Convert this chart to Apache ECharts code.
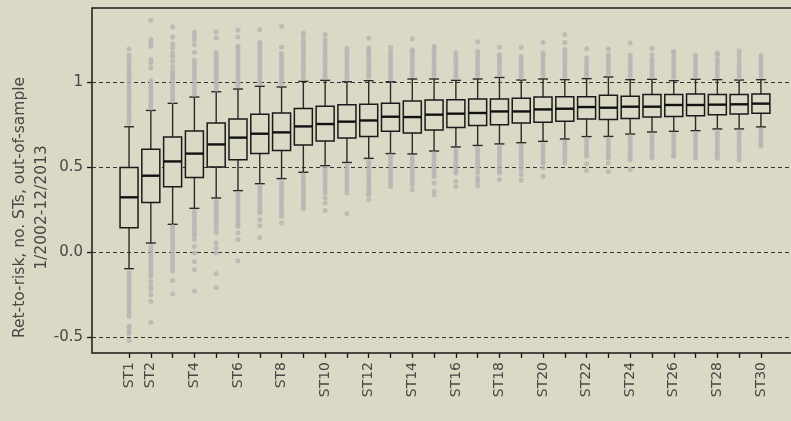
<!DOCTYPE html>
<html>
<head>
<meta charset="utf-8">
<script src="https://cdn.jsdelivr.net/npm/echarts@6/dist/echarts.min.js"></script>
<style>
  html, body { margin: 0; padding: 0; background: #d9d9c5; }
  #chart { width: 791px; height: 421px; }
</style>
</head>
<body>
<div id="chart"></div>
<script>
const strategies = ['ST1','ST2','ST3','ST4','ST5','ST6','ST7','ST8','ST9','ST10','ST11','ST12','ST13','ST14','ST15',
  'ST16','ST17','ST18','ST19','ST20','ST21','ST22','ST23','ST24','ST25','ST26','ST27','ST28','ST29','ST30'];
const labeledStrategies = ['ST1','ST2','ST4','ST6','ST8','ST10','ST12','ST14','ST16','ST18','ST20','ST22','ST24','ST26','ST28','ST30'];
const yTicks = [-0.5, 0, 0.5, 1];

const whiskerHigh = [0.739,0.835,0.877,0.914,0.945,0.961,0.977,0.973,1.006,1.012,1.004,1.01,1.004,1.02,1.02,1.012,1.02,1.029,1.014,1.02,1.016,1.022,1.032,1.016,1.018,1.01,1.018,1.016,1.014,1.016];
const q3 = [0.5,0.606,0.679,0.714,0.761,0.785,0.812,0.82,0.847,0.859,0.869,0.871,0.877,0.891,0.896,0.898,0.902,0.902,0.906,0.914,0.916,0.916,0.924,0.918,0.928,0.929,0.932,0.928,0.929,0.932];
const median = [0.324,0.451,0.535,0.581,0.635,0.675,0.698,0.706,0.741,0.755,0.769,0.776,0.798,0.796,0.81,0.816,0.82,0.829,0.829,0.841,0.845,0.855,0.851,0.857,0.857,0.867,0.867,0.869,0.871,0.875];
const q1 = [0.145,0.294,0.386,0.441,0.502,0.545,0.581,0.6,0.632,0.655,0.673,0.682,0.712,0.702,0.72,0.734,0.747,0.751,0.761,0.765,0.771,0.785,0.781,0.788,0.796,0.8,0.804,0.81,0.814,0.818];
const whiskerLow = [-0.096,0.055,0.165,0.259,0.32,0.363,0.404,0.434,0.471,0.51,0.529,0.553,0.581,0.579,0.596,0.62,0.629,0.638,0.645,0.653,0.667,0.681,0.682,0.696,0.708,0.712,0.716,0.726,0.726,0.738];

// outliers per strategy (upper then lower)
const outliers = [
  [0.76,0.78,0.80,0.82,0.84,0.86,0.88,0.90,0.92,0.94,0.96,0.98,1.00,1.02,1.035,1.05,1.07,1.09,1.115,1.135,1.16,1.196,
   -0.12,-0.14,-0.16,-0.18,-0.20,-0.22,-0.24,-0.26,-0.28,-0.30,-0.32,-0.34,-0.36,-0.376,-0.435,-0.445,-0.465,-0.478,-0.518],
  [0.85,0.87,0.89,0.91,0.93,0.95,0.97,0.99,1.01,1.085,1.114,1.134,1.212,1.232,1.251,1.365,
   0.035,0.015,-0.005,-0.025,-0.045,-0.065,-0.085,-0.105,-0.125,-0.14,-0.171,-0.2,-0.219,-0.249,-0.288,-0.412],
  [0.89,0.91,0.93,0.95,0.97,0.99,1.01,1.03,1.05,1.065,1.094,1.124,1.153,1.173,1.202,1.228,1.267,1.326,
   0.15,0.13,0.11,0.09,0.07,0.05,0.03,0.01,-0.01,-0.03,-0.05,-0.07,-0.09,-0.11,-0.166,-0.245],
  [0.93,0.95,0.97,0.99,1.01,1.03,1.05,1.07,1.09,1.11,1.13,1.176,1.222,1.251,1.275,1.294,
   0.24,0.22,0.20,0.18,0.16,0.14,0.12,0.10,0.075,0.035,-0.004,-0.053,-0.102,-0.227],
  [0.96,0.98,1.00,1.02,1.04,1.06,1.08,1.10,1.12,1.14,1.16,1.176,1.261,1.296,
   0.30,0.28,0.26,0.24,0.22,0.20,0.18,0.16,0.14,0.116,0.055,0.026,-0.004,-0.125,-0.206],
  [0.98,1.00,1.02,1.04,1.06,1.08,1.10,1.12,1.14,1.16,1.18,1.20,1.212,1.267,1.306,
   0.345,0.325,0.305,0.285,0.265,0.245,0.225,0.205,0.185,0.165,0.153,0.114,0.075,-0.049],
  [0.995,1.015,1.035,1.055,1.075,1.095,1.115,1.135,1.155,1.175,1.195,1.215,1.235,1.31,
   0.385,0.365,0.345,0.325,0.305,0.285,0.265,0.245,0.233,0.192,0.157,0.086],
  [0.99,1.01,1.03,1.05,1.07,1.09,1.11,1.13,1.15,1.169,1.206,1.329,
   0.415,0.395,0.375,0.355,0.335,0.315,0.295,0.275,0.255,0.235,0.212,0.173],
  [1.025,1.045,1.065,1.085,1.105,1.125,1.145,1.165,1.185,1.205,1.225,1.245,1.271,1.29,
   0.455,0.435,0.415,0.395,0.375,0.355,0.335,0.315,0.295,0.275,0.255],
  [1.03,1.05,1.07,1.09,1.11,1.13,1.15,1.17,1.19,1.21,1.23,1.251,1.281,
   0.49,0.47,0.45,0.43,0.41,0.39,0.37,0.35,0.32,0.29,0.247],
  [1.02,1.04,1.06,1.08,1.10,1.12,1.14,1.16,1.182,1.2,
   0.51,0.49,0.47,0.45,0.43,0.41,0.39,0.37,0.349,0.229],
  [1.03,1.05,1.07,1.09,1.11,1.13,1.15,1.17,1.19,1.202,1.261,
   0.535,0.515,0.495,0.475,0.455,0.435,0.415,0.395,0.375,0.355,0.339,0.31],
  [1.02,1.04,1.06,1.08,1.10,1.12,1.14,1.16,1.18,1.206,
   0.565,0.545,0.525,0.505,0.485,0.465,0.445,0.425,0.405,0.388],
  [1.04,1.06,1.08,1.10,1.12,1.14,1.16,1.18,1.192,1.257,
   0.56,0.54,0.52,0.50,0.48,0.46,0.44,0.42,0.40,0.369],
  [1.04,1.06,1.08,1.10,1.12,1.14,1.16,1.18,1.20,1.212,
   0.58,0.56,0.54,0.52,0.50,0.48,0.46,0.447,0.408,0.359,0.339],
  [1.03,1.05,1.07,1.09,1.11,1.13,1.15,1.173,
   0.60,0.58,0.56,0.54,0.52,0.50,0.48,0.467,0.418,0.388],
  [1.04,1.06,1.08,1.10,1.12,1.14,1.16,1.182,1.239,
   0.61,0.59,0.57,0.55,0.53,0.51,0.49,0.467,0.437,0.418,0.392],
  [1.045,1.065,1.085,1.105,1.125,1.145,1.163,1.208,
   0.62,0.60,0.58,0.56,0.54,0.52,0.50,0.48,0.467,0.428],
  [1.03,1.05,1.07,1.09,1.11,1.13,1.153,1.206,
   0.625,0.605,0.585,0.565,0.545,0.525,0.505,0.486,0.457,0.424],
  [1.04,1.06,1.08,1.10,1.12,1.14,1.16,1.173,1.235,
   0.635,0.615,0.595,0.575,0.555,0.535,0.526,0.496,0.447],
  [1.035,1.055,1.075,1.095,1.115,1.135,1.155,1.175,1.192,1.235,1.281,
   0.65,0.63,0.61,0.59,0.57,0.55,0.526],
  [1.04,1.06,1.08,1.10,1.12,1.143,1.198,
   0.665,0.645,0.625,0.605,0.585,0.565,0.522,0.481],
  [1.05,1.07,1.09,1.11,1.13,1.15,1.163,1.196,
   0.665,0.645,0.625,0.605,0.585,0.565,0.555,0.526,0.476],
  [1.035,1.055,1.075,1.095,1.115,1.134,1.16,1.232,
   0.68,0.66,0.64,0.62,0.60,0.58,0.56,0.545,0.488],
  [1.035,1.055,1.075,1.095,1.115,1.135,1.163,1.2,
   0.69,0.67,0.65,0.63,0.61,0.59,0.57,0.555],
  [1.03,1.05,1.07,1.09,1.11,1.13,1.15,1.173,1.182,
   0.695,0.675,0.655,0.635,0.615,0.595,0.575,0.565],
  [1.035,1.055,1.075,1.095,1.115,1.135,1.159,
   0.70,0.68,0.66,0.64,0.62,0.60,0.58,0.555],
  [1.035,1.055,1.075,1.095,1.115,1.135,1.163,1.173,
   0.71,0.69,0.67,0.65,0.63,0.61,0.59,0.575,0.553],
  [1.03,1.05,1.07,1.09,1.11,1.134,1.16,1.185,
   0.71,0.69,0.67,0.65,0.63,0.61,0.59,0.565,0.543],
  [1.035,1.055,1.075,1.095,1.115,1.135,1.157,
   0.72,0.70,0.68,0.66,0.64,0.624]
];

const bg = '#d9d9c5';
const font = 'DejaVu Sans';
const textColor = '#474747';

const boxData = strategies.map((s, i) => [i + 1, whiskerLow[i], q1[i], median[i], q3[i], whiskerHigh[i]]);
const dotData = [];
outliers.forEach((vals, i) => vals.forEach(v => dotData.push([i + 1, v])));
const tickValues = strategies.map((s, i) => i + 1);
const labelValues = labeledStrategies.map(s => strategies.indexOf(s) + 1);

function renderBox(params, api) {
  const x = api.value(0);
  const lo = api.coord([x, api.value(1)]);
  const b1 = api.coord([x, api.value(2)]);
  const md = api.coord([x, api.value(3)]);
  const b3 = api.coord([x, api.value(4)]);
  const hi = api.coord([x, api.value(5)]);
  const half = 9, cap = 5;
  const lineStyle = { stroke: '#2a2a2a', lineWidth: 1.4 };
  return {
    type: 'group',
    children: [
      { type: 'line', shape: { x1: lo[0], y1: lo[1], x2: b1[0], y2: b1[1] }, style: lineStyle },
      { type: 'line', shape: { x1: b3[0], y1: b3[1], x2: hi[0], y2: hi[1] }, style: lineStyle },
      { type: 'line', shape: { x1: lo[0] - cap, y1: lo[1], x2: lo[0] + cap, y2: lo[1] }, style: lineStyle },
      { type: 'line', shape: { x1: hi[0] - cap, y1: hi[1], x2: hi[0] + cap, y2: hi[1] }, style: lineStyle },
      { type: 'rect', shape: { x: b1[0] - half, y: b3[1], width: half * 2, height: b1[1] - b3[1] },
        style: { fill: bg, stroke: '#1a1a1a', lineWidth: 1.5 } },
      { type: 'line', shape: { x1: md[0] - half, y1: md[1], x2: md[0] + half, y2: md[1] },
        style: { stroke: '#111', lineWidth: 2.4 } }
    ]
  };
}

const chart = echarts.init(document.getElementById('chart'));
chart.setOption({
  backgroundColor: bg,
  animation: false,
  grid: {
    left: 92, top: 8, right: -5, bottom: 68,
    outerBoundsMode: 'none',
    containLabel: false,
    show: true, borderColor: '#1a1a1a', borderWidth: 1.5, backgroundColor: 'transparent'
  },
  xAxis: {
    type: 'value',
    min: -0.7,
    max: 31.61,
    axisLine: { show: false, onZero: false },
    splitLine: { show: false },
    axisTick: { show: true, length: 5, customValues: tickValues, lineStyle: { color: '#1a1a1a', width: 1.3 } },
    axisLabel: {
      customValues: labelValues,
      formatter: v => strategies[v - 1],
      rotate: 90,
      margin: 9,
      color: textColor,
      fontFamily: font,
      fontSize: 14
    }
  },
  yAxis: {
    type: 'value',
    min: -0.592,
    max: 1.4376,
    splitNumber: 4,
    name: 'Ret-to-risk, no. STs, out-of-sample\n1/2002-12/2013',
    nameLocation: 'middle',
    nameGap: 39,
    nameMoveOverlap: false,
    nameTextStyle: { color: textColor, fontFamily: font, fontSize: 15.5, lineHeight: 22, padding: [0, 54, 0, 0] },
    axisLine: { show: false, onZero: false },
    axisTick: { show: true, length: 5, customValues: yTicks, lineStyle: { color: '#1a1a1a', width: 1.3 } },
    axisLabel: {
      customValues: yTicks,
      formatter: v => (v === 1 ? '1' : v.toFixed(1)),
      color: textColor,
      fontFamily: font,
      fontSize: 15,
      margin: 9
    },
    splitLine: {
      show: true,
      lineStyle: { color: '#333', type: [4, 3], width: 1 }
    }
  },
  series: [
    {
      type: 'scatter',
      data: dotData,
      symbolSize: 5,
      itemStyle: { color: '#b3b3b3' },
      silent: true
    },
    {
      type: 'custom',
      renderItem: renderBox,
      data: boxData,
      encode: { x: 0, y: [1, 2, 3, 4, 5] },
      silent: true
    }
  ]
});
</script>
</body>
</html>
